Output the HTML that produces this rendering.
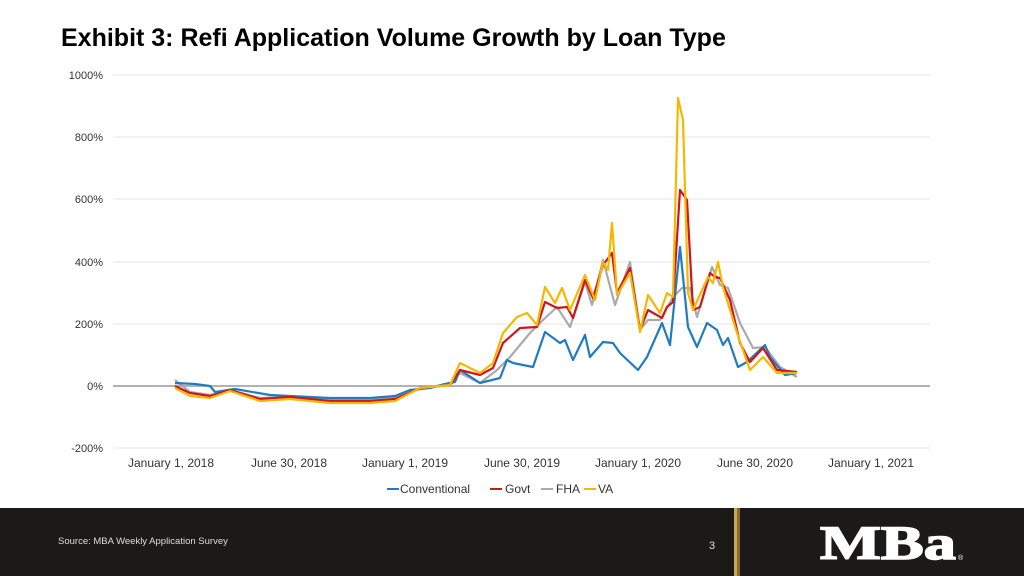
<!DOCTYPE html>
<html><head><meta charset="utf-8"><style>
body{margin:0;width:1024px;height:576px;background:#fff;position:relative;overflow:hidden;font-family:"Liberation Sans",sans-serif}
.t{position:absolute;left:61px;top:24px;font-size:25px;font-weight:bold;color:#000;white-space:nowrap}
.foot{position:absolute;left:0;top:508px;width:1024px;height:68px;background:#1c1a19}
</style></head><body>
<div class="t">Exhibit 3: Refi Application Volume Growth by Loan Type</div>
<svg width="1024" height="576" style="position:absolute;left:0;top:0">
<g stroke="#e6e6e6" stroke-width="1">
<line x1="113" x2="930" y1="75" y2="75"/><line x1="113" x2="930" y1="137" y2="137"/><line x1="113" x2="930" y1="199" y2="199"/><line x1="113" x2="930" y1="262" y2="262"/><line x1="113" x2="930" y1="324" y2="324"/><line x1="113" x2="930" y1="448" y2="448"/>
</g>
<line x1="113" x2="930" y1="386" y2="386" stroke="#999" stroke-width="1.5"/>
<g font-size="11" fill="#333" text-anchor="end">
<text x="103" y="79">1000%</text><text x="103" y="141">800%</text><text x="103" y="203">600%</text><text x="103" y="266">400%</text><text x="103" y="328">200%</text><text x="103" y="390">0%</text><text x="103" y="452">-200%</text>
</g>
<g font-size="12" fill="#333" text-anchor="middle">
<text x="171" y="467">January 1, 2018</text><text x="289" y="467">June 30, 2018</text><text x="405" y="467">January 1, 2019</text><text x="522" y="467">June 30, 2019</text><text x="638" y="467">January 1, 2020</text><text x="755" y="467">June 30, 2020</text><text x="871" y="467">January 1, 2021</text>
</g>
<g fill="none" stroke-width="2.2" stroke-linejoin="round">
<polyline stroke="#aaa" points="175,380 190,392 210,395 230,390 260,398 290,397 330,400 370,400 395,398 420,389 450,384 460,373 480,383 497,370 510,357 530,333 543,320 557,307 570,327 585,282 592,305 603,260 615,305 630,262 640,330 648,320 660,320 673,297 682,288 690,288 697,317 712,267 720,285 728,288 740,323 753,348 765,347 780,367 797,377"/>
<polyline stroke="#1f7cc4" points="175,383 195,384 210,386 215,392 235,389 270,395 290,396 330,398 370,398 395,396 410,390 430,388 445,384 455,382 460,370 480,383 500,378 507,360 513,363 533,367 545,332 560,343 565,340 573,360 585,335 590,357 603,342 613,343 620,353 638,370 647,357 662,323 670,345 680,247 688,327 697,347 707,323 717,330 723,345 728,338 738,367 747,362 765,345 770,357 785,375 797,373"/>
<polyline stroke="#d0161c" points="175,386 190,393 210,396 230,390 260,399 290,397 330,401 370,401 395,399 420,388 450,385 460,370 480,375 493,368 503,343 520,328 537,327 545,302 557,308 567,307 573,318 585,280 593,298 603,265 612,253 617,293 630,268 640,330 648,310 662,318 667,307 673,302 680,190 687,200 693,310 700,307 710,273 715,277 720,278 730,300 740,343 750,362 763,348 777,370 797,372"/>
<polyline stroke="#f5b800" points="175,388 190,396 210,398 230,391 260,401 290,399 330,403 370,403 395,401 420,388 450,385 460,363 480,373 493,363 503,333 517,317 527,313 537,325 545,287 555,303 562,288 570,310 585,275 595,300 603,262 608,270 612,223 617,295 630,273 640,332 648,295 660,313 667,293 673,297 678,98 683,120 688,293 693,310 708,277 713,283 718,262 723,287 737,333 750,370 763,357 777,373 797,373"/>
</g>
<g font-size="12" fill="#333">
<line x1="387" x2="399" y1="489" y2="489" stroke="#1f7cc4" stroke-width="2"/><text x="400" y="493">Conventional</text>
<line x1="490" x2="502" y1="489" y2="489" stroke="#d0161c" stroke-width="2"/><text x="505" y="493">Govt</text>
<line x1="541" x2="553" y1="489" y2="489" stroke="#aaa" stroke-width="2"/><text x="556" y="493">FHA</text>
<line x1="584" x2="596" y1="489" y2="489" stroke="#f5b800" stroke-width="2"/><text x="598" y="493">VA</text>
</g>
</svg>
<div class="foot"></div>
<svg width="1024" height="576" style="position:absolute;left:0;top:0">
<rect x="734" y="508" width="3" height="68" fill="#c9a45c"/><rect x="737" y="508" width="3" height="68" fill="#8a6a2c"/>
<text x="58" y="544" font-size="9.5" fill="#ddd">Source: MBA Weekly Application Survey</text>
<text x="712" y="549" font-size="11" fill="#ddd" text-anchor="middle">3</text>
<text x="820" y="559" font-size="48" font-weight="bold" font-family="Liberation Serif,serif" fill="#fff" stroke="#fff" stroke-width="1.5" textLength="136" lengthAdjust="spacingAndGlyphs">MBa</text>
<text x="958" y="560" font-size="7" fill="#fff">®</text>
</svg>
</body></html>
